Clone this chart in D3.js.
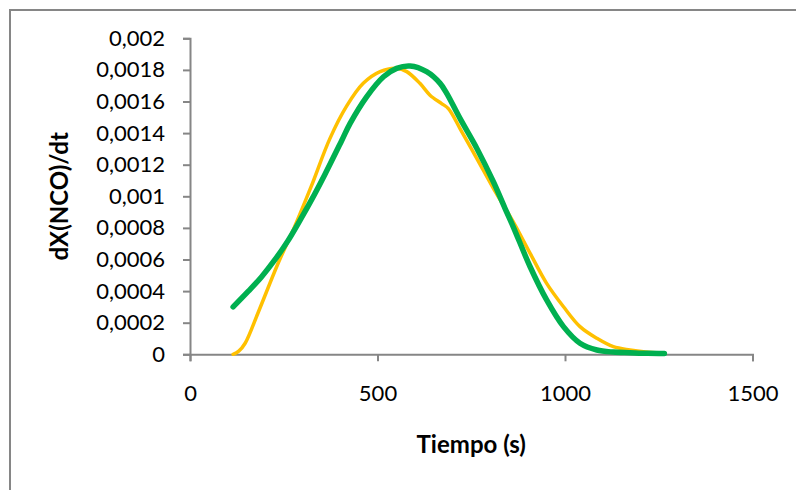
<!DOCTYPE html>
<html>
<head>
<meta charset="utf-8">
<script src="https://cdn.jsdelivr.net/npm/d3@7"></script>
<style>
  html, body { margin: 0; padding: 0; background: #fff; }
  svg { display: block; }
</style>
</head>
<body>
<svg id="chart" width="796" height="490"></svg>
<script>
// Reaction rate of NCO conversion over time: experimental vs. model
const expTime = [115, 130, 147, 181, 235, 279, 323, 373, 418, 462, 507, 551, 578, 613, 640, 671, 689, 720, 765, 809, 862, 907, 951, 996, 1040, 1085, 1129, 1173, 1215, 1255];
const expRate = [0, 0.00002, 0.00007, 0.00026, 0.000576, 0.000808, 0.001061, 0.001365, 0.001572, 0.001715, 0.001789, 0.00181, 0.001789, 0.001715, 0.00164, 0.001587, 0.001555, 0.001429, 0.001239, 0.00105, 0.000838, 0.000639, 0.000449, 0.000301, 0.000175, 0.000101, 0.000048, 0.000027, 0.000014, 0.000007];

const modelTime = [115, 155, 190, 226, 261, 288, 324, 359, 404, 427, 471, 516, 551, 587, 631, 667, 685, 720, 765, 809, 840, 862, 907, 951, 996, 1040, 1085, 1129, 1173, 1220, 1265];
const modelRate = [0.0003, 0.000398, 0.000488, 0.000597, 0.000718, 0.000826, 0.000977, 0.001135, 0.00135, 0.001462, 0.00163, 0.001757, 0.00181, 0.001825, 0.001789, 0.001715, 0.00165, 0.001493, 0.001303, 0.001092, 0.000924, 0.000807, 0.000554, 0.000344, 0.000175, 0.00007, 0.000027, 0.000014, 0.00001, 0.000006, 0.000005];

const xTicks = [0, 500, 1000, 1500];
const yTicks = [0, 0.0002, 0.0004, 0.0006, 0.0008, 0.001, 0.0012, 0.0014, 0.0016, 0.0018, 0.002];

const svg = d3.select("#chart");
const axisColor = "#868686";
const font = "Lato, 'Open Sans', sans-serif";

// Outer chart frame
svg.append("rect")
  .attr("x", 10).attr("y", 10)
  .attr("width", 820).attr("height", 520)
  .attr("fill", "none")
  .attr("stroke", axisColor)
  .attr("stroke-width", 2);

const x = d3.scaleLinear().domain([0, 1500]).range([190, 752.5]);
const y = d3.scaleLinear().domain([0, 0.002]).range([354.3, 38.3]);

const fmtY = v => v === 0 ? "0" : d3.format(".4~f")(v).replace(".", ",");

// Y axis
const yAxis = svg.append("g")
  .attr("transform", `translate(${x(0)},0)`)
  .call(d3.axisLeft(y).tickValues(yTicks).tickSize(7).tickPadding(18).tickFormat(fmtY));

// X axis
const xAxis = svg.append("g")
  .attr("transform", `translate(0,${y(0)})`)
  .call(d3.axisBottom(x).tickValues(xTicks).tickSize(7).tickPadding(24).tickFormat(d3.format("d")));

[yAxis, xAxis].forEach(g => {
  g.select(".domain").attr("stroke", axisColor).attr("stroke-width", 2);
  g.selectAll(".tick line").attr("stroke", axisColor).attr("stroke-width", 2);
  g.selectAll(".tick text")
    .attr("fill", "#000")
    .style("font-family", font)
    .style("font-size", "22px");
});

// Axis titles
svg.append("text")
  .attr("x", x(750)).attr("y", 453)
  .attr("text-anchor", "middle")
  .style("font-family", font)
  .style("font-weight", "bold")
  .style("font-size", "24px")
  .text("Tiempo (s)");

svg.append("text")
  .attr("transform", `translate(68,${(y(0) + y(0.002)) / 2}) rotate(-90)`)
  .attr("text-anchor", "middle")
  .style("font-family", font)
  .style("font-weight", "bold")
  .style("font-size", "24px")
  .text("dX(NCO)/dt");

// Series lines
const line = d3.line()
  .x(d => x(d[0]))
  .y(d => y(d[1]))
  .curve(d3.curveCatmullRom.alpha(0.5));

svg.append("path")
  .datum(d3.zip(expTime, expRate))
  .attr("d", line)
  .attr("fill", "none")
  .attr("stroke", "#FFC000")
  .attr("stroke-width", 3.5)
  .attr("stroke-linecap", "round")
  .attr("stroke-linejoin", "round");

svg.append("path")
  .datum(d3.zip(modelTime, modelRate))
  .attr("d", line)
  .attr("fill", "none")
  .attr("stroke", "#00B050")
  .attr("stroke-width", 5.5)
  .attr("stroke-linecap", "round")
  .attr("stroke-linejoin", "round");
</script>
</body>
</html>
